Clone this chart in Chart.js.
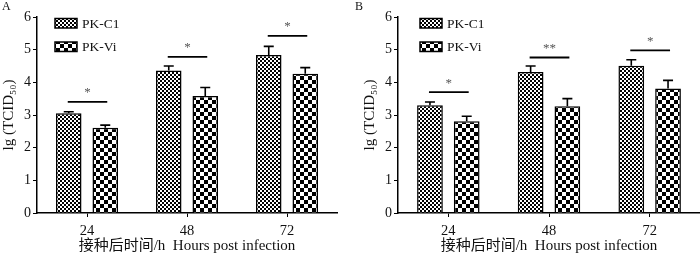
<!DOCTYPE html>
<html><head><meta charset="utf-8">
<script src="https://cdn.jsdelivr.net/npm/chart.js@4"></script>
<style>
html,body{margin:0;padding:0;background:#fff;}
#wrap{position:relative;width:700px;height:254px;}
.pane{position:absolute;top:0;width:350px;height:254px;}
</style></head><body>
<div id="wrap">
<div class="pane" style="left:0"><canvas id="cA" width="350" height="254"></canvas></div>
<div class="pane" style="left:350px"><canvas id="cB" width="350" height="254"></canvas></div>
</div>
<script>
// ---- data ----
const categories = ['24', '48', '72'];
const seriesNames = ['PK-C1', 'PK-Vi'];
const yTicks = [0, 1, 2, 3, 4, 5, 6];

const A_c1 = [3.05, 4.36, 4.84];
const A_c1_err = [0.05, 0.14, 0.26];
const A_vi = [2.61, 3.58, 4.26];
const A_vi_err = [0.08, 0.26, 0.19];
const A_sigY = [3.40, 4.78, 5.42];
const A_sigLabel = ['*', '*', '*'];

const B_c1 = [3.30, 4.32, 4.51];
const B_c1_err = [0.10, 0.18, 0.18];
const B_vi = [2.81, 3.27, 3.81];
const B_vi_err = [0.15, 0.23, 0.25];
const B_sigY = [3.70, 4.76, 4.98];
const B_sigLabel = ['*', '**', '*'];

const xTitle = '接种后时间/h  Hours post infection';
const yTitle = 'lg (TCID₅₀)';

// ---- drawing ----
const SERIF = '"Liberation Serif", "Times New Roman", "Noto Sans CJK SC", serif';

function makePattern(cell) {
  const c = document.createElement('canvas');
  c.width = c.height = cell * 2;
  const x = c.getContext('2d');
  x.fillStyle = '#fff'; x.fillRect(0, 0, cell * 2, cell * 2);
  x.fillStyle = '#000';
  x.fillRect(0, 0, cell, cell);
  x.fillRect(cell, cell, cell, cell);
  return x.createPattern(c, 'repeat');
}

function build(canvasId, panel, c1, c1e, vi, vie, sigY, sigLab, opts) {
  const ctx0 = document.getElementById(canvasId).getContext('2d');
  const pC1 = makePattern(2), pVi = makePattern(4);
  const errs = [c1e, vie];
  const extras = {
    id: 'extras',
    afterDatasetsDraw(chart) {
      const ctx = chart.ctx;
      const ys = chart.scales.y;
      ctx.save();
      // error bars
      chart.data.datasets.forEach((ds, di) => {
        const meta = chart.getDatasetMeta(di);
        meta.data.forEach((bar, j) => {
          const top = ys.getPixelForValue(ds.data[j] + errs[di][j]);
          ctx.strokeStyle = '#000'; ctx.lineWidth = 1.6;
          ctx.beginPath();
          ctx.moveTo(bar.x, bar.y); ctx.lineTo(bar.x, top);
          ctx.moveTo(bar.x - 5, top); ctx.lineTo(bar.x + 5, top);
          ctx.stroke();
        });
      });
      // significance lines
      const m0 = chart.getDatasetMeta(0), m1 = chart.getDatasetMeta(1);
      sigY.forEach((v, j) => {
        const y = ys.getPixelForValue(v);
        const x0 = m0.data[j].x - 1, x1 = m1.data[j].x + 2;
        ctx.strokeStyle = '#000'; ctx.lineWidth = 1.8;
        ctx.beginPath(); ctx.moveTo(x0, y); ctx.lineTo(x1, y); ctx.stroke();
        ctx.fillStyle = '#555';
        ctx.font = '13px ' + SERIF;
        ctx.textAlign = 'center'; ctx.textBaseline = 'middle';
        ctx.fillText(sigLab[j], (x0 + x1) / 2, y - 9);
      });
      // legend
      const lx = chart.chartArea.left + opts.legendDx;
      const rows = [[pC1, 18.5], [pVi, 42]];
      rows.forEach((r, i) => {
        ctx.fillStyle = r[0];
        ctx.fillRect(lx, r[1], 22, 9.5);
        ctx.strokeStyle = '#000'; ctx.lineWidth = 1.5;
        ctx.strokeRect(lx, r[1], 22, 9.5);
        ctx.fillStyle = '#111';
        ctx.font = '13.5px ' + SERIF;
        ctx.textAlign = 'left'; ctx.textBaseline = 'middle';
        ctx.fillText(chart.data.datasets[i].label, lx + 27, r[1] + 5.5);
      });
      // panel letter
      ctx.fillStyle = '#111';
      ctx.font = '12px ' + SERIF;
      ctx.textAlign = 'left'; ctx.textBaseline = 'top';
      ctx.fillText(panel, opts.letterX, 1);
      ctx.restore();
    }
  };
  return new Chart(ctx0, {
    type: 'bar',
    data: {
      labels: categories,
      datasets: [
        { label: seriesNames[0], data: c1, backgroundColor: pC1, borderColor: '#000', borderWidth: 1.5, borderSkipped: 'bottom' },
        { label: seriesNames[1], data: vi, backgroundColor: pVi, borderColor: '#000', borderWidth: 1.5, borderSkipped: 'bottom' }
      ]
    },
    options: {
      responsive: false,
      animation: false,
      devicePixelRatio: 1,
      layout: { padding: { left: opts.padLeft, right: opts.padRight, top: 17, bottom: 0 } },
      datasets: { bar: { categoryPercentage: 0.73, barPercentage: 0.7 } },
      plugins: { legend: { display: false }, tooltip: { enabled: false } },
      scales: {
        x: {
          offset: true,
          grid: { offset: false, drawOnChartArea: false, drawTicks: true, tickLength: 4, color: '#000', lineWidth: 1 },
          border: { display: true, color: '#000', width: 1.5 },
          ticks: { color: '#111', font: { family: SERIF, size: 14.5 }, padding: 5 },
          title: { display: true, text: xTitle, color: '#111', font: { family: SERIF, size: 15 }, padding: { top: 0, bottom: -1 } },
          afterFit(s) { s.height = 41; }
        },
        y: {
          min: 0, max: 6,
          afterBuildTicks(s) { s.ticks = yTicks.map(v => ({ value: v })); },
          grid: { drawOnChartArea: false, drawTicks: true, tickLength: 4, color: '#000', lineWidth: 1 },
          border: { display: true, color: '#000', width: 1.5 },
          ticks: { color: '#111', font: { family: SERIF, size: 14 }, padding: 2 },
          title: { display: true, text: yTitle, color: '#111', font: { family: SERIF, size: 15 }, padding: 0 },
          afterFit(s) { s.width = 37; }
        }
      }
    },
    plugins: [extras]
  });
}

build('cA', 'A', A_c1, A_c1_err, A_vi, A_vi_err, A_sigY, A_sigLabel, { padLeft: 0, padRight: 13, legendDx: 18, letterX: 2 });
build('cB', 'B', B_c1, B_c1_err, B_vi, B_vi_err, B_sigY, B_sigLabel, { padLeft: 11, padRight: 0, legendDx: 22, letterX: 5 });
</script>
</body></html>
